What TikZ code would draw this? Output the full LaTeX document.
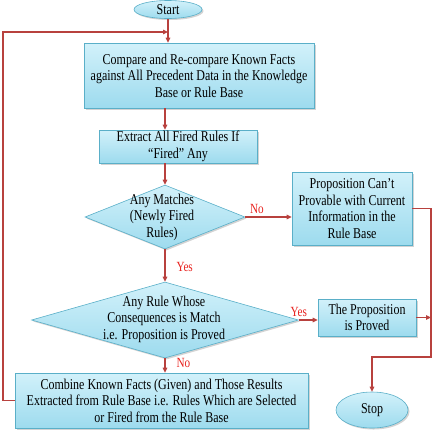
\documentclass[tikz,border=0pt]{standalone}
\usepackage{fontspec}
\setmainfont[FakeStretch=0.8]{Liberation Serif}
\usetikzlibrary{shapes.geometric,arrows.meta,shadows}
\definecolor{linered}{HTML}{B8413E}
\definecolor{lblred}{HTML}{E8231F}
\definecolor{bordc}{HTML}{5AAFC8}
\definecolor{filltop}{HTML}{D2F1FA}
\definecolor{fillbot}{HTML}{9DDBEE}
\begin{document}
\begin{tikzpicture}[x=1pt,y=-1pt,
 base/.style={draw=bordc, line width=0.6pt, top color=filltop, bottom color=fillbot,
   drop shadow={opacity=0.35,shadow xshift=1.5pt,shadow yshift=-1.5pt},
   font=\fontsize{15}{16.5}\selectfont, align=center, inner sep=0pt},
 box/.style={base, rectangle},
 oval/.style={base, ellipse},
 dia/.style={base, diamond},
 txt/.style={font=\fontsize{15}{16.5}\selectfont, align=center, inner sep=0pt},
 conn/.style={draw=linered, line width=1.1pt},
 arr/.style={conn, -{Triangle[length=5pt,width=4.5pt]}},
 lbl/.style={text=lblred, font=\fontsize{14}{15}\selectfont, inner sep=0pt}]
\useasboundingbox (0,0) rectangle (435,432);

\node[oval, minimum width=68pt, minimum height=18pt] (start) at (168,9.5) {Start};
\node[box, minimum width=230pt, minimum height=65pt] (b1) at (199,75.5) {Compare and Re-compare Known Facts\\against All Precedent Data in the Knowledge\\Base or Rule Base};
\node[box, minimum width=158pt, minimum height=33pt] (b2) at (178,146.5) {Extract All Fired Rules If\\“Fired” Any};
\node[dia, minimum width=160pt, minimum height=64pt] (d1) at (165,217) {};
\node[txt] (d1t) at (162,217) {Any Matches\\(Newly Fired\\Rules)};
\node[box, minimum width=120pt, minimum height=73pt] (b3) at (352,208.5) {Proposition Can’t\\Provable with Current\\Information in the\\Rule Base};
\node[dia, minimum width=267pt, minimum height=76pt] (d2) at (165,320) {};
\node[txt] (d2t) at (164,319) {Any Rule Whose\\Consequences is Match\\i.e. Proposition is Proved};
\node[box, minimum width=98pt, minimum height=37pt] (b4) at (367,317.5) {The Proposition\\is Proved};
\node[box, minimum width=293pt, minimum height=55pt] (b5) at (161.5,400.5) {Combine Known Facts (Given) and Those Results\\Extracted from Rule Base i.e. Rules Which are Selected\\or Fired from the Rule Base};
\node[oval, minimum width=72pt, minimum height=36pt] (stop) at (372,410) {Stop};

\coordinate (j1) at (168,32);
\coordinate (lx) at (3,0);
\coordinate (rx) at (431,0);
\coordinate (k) at (431,357);

\draw[arr] (start.south) -- (start.south |- b1.north);
\draw[arr] (b5.west) -- (b5.west -| lx) -- (lx |- j1) -- (j1);
\draw[arr] (b1.south -| d1.north) -- (b2.north -| d1.north);
\draw[arr] (b2.south -| d1.north) -- (d1.north);
\draw[arr] (d1.east) -- node[lbl, above=3pt, pos=0.25]{No} (d1.east -| b3.west);
\draw[arr] (d1.south) -- node[lbl, right=11pt, pos=0.55]{Yes} (d2.north);
\draw[arr] (d2.east) -- node[lbl, above=3pt, pos=0]{Yes} (d2.east -| b4.west);
\draw[arr] (d2.south) -- node[lbl, right=11pt, pos=0.3]{No} (d2.south |- b5.north);
\draw[arr] (b3.east) -- (b3.east -| rx) -- (k) -- (k -| stop.north) -- (stop.north);
\draw[arr] (b4.east) -- (b4.east -| rx);
\end{tikzpicture}
\end{document}
